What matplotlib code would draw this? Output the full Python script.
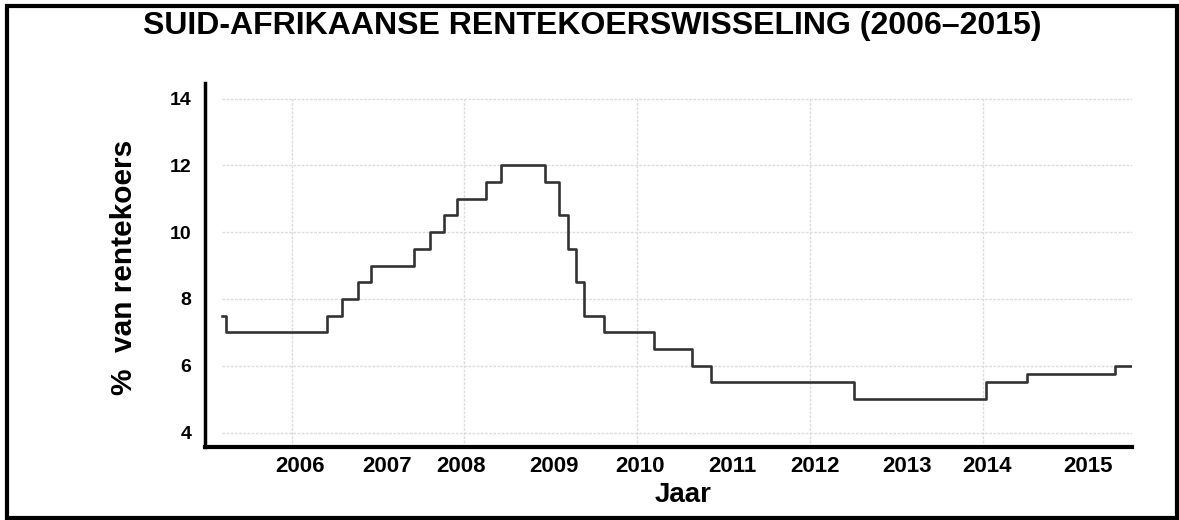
import matplotlib.pyplot as plt
from matplotlib.patches import Rectangle

# repo rate changes: (decimal year of change, new rate in %)
change_years = [2005.20, 2005.24, 2006.41, 2006.58, 2006.77, 2006.92, 2007.42, 2007.60,
                2007.76, 2007.91, 2008.25, 2008.42, 2008.93, 2009.09, 2009.20, 2009.29,
                2009.38, 2009.61, 2010.19, 2010.63, 2010.85, 2012.51, 2014.03, 2014.51,
                2015.53, 2015.72]
rates = [7.5, 7.0, 7.5, 8.0, 8.5, 9.0, 9.5, 10.0,
         10.5, 11.0, 11.5, 12.0, 11.5, 10.5, 9.5, 8.5,
         7.5, 7.0, 6.5, 6.0, 5.5, 5.0, 5.5, 5.75,
         6.0, 6.0]

year_label_pos = [2006.10, 2007.10, 2007.96, 2009.03, 2010.03, 2011.10,
                  2012.06, 2013.12, 2014.04, 2015.21]
year_labels = ['2006', '2007', '2008', '2009', '2010', '2011',
               '2012', '2013', '2014', '2015']
grid_years = [2006, 2008, 2010, 2012, 2014]
y_ticks = [4, 6, 8, 10, 12, 14]

plt.rcParams['font.family'] = ['Liberation Sans', 'DejaVu Sans']

fig = plt.figure(figsize=(11.79, 5.2), dpi=100)
ax = fig.add_axes([0.174, 0.140, 0.786, 0.700])

# light dotted grid, only over the data span
ax.hlines(y_ticks, change_years[0], change_years[-1], colors='#dddddd',
          linewidth=1, linestyles=(0, (2, 1)), zorder=1)
ax.vlines(grid_years, 3.56, 14, colors='#dddddd', linewidth=1,
          linestyles=(0, (2, 1)), zorder=1)

ax.plot(change_years, rates, drawstyle='steps-post', color='#333333',
        linewidth=1.9, zorder=3)

ax.set_xlim(2005.0, 2015.72)
ax.set_ylim(3.56, 14.46)
ax.set_xticks(year_label_pos)
ax.set_xticklabels(year_labels, fontsize=16, fontweight='bold')
ax.set_yticks(y_ticks)
ax.set_yticklabels([str(v) for v in y_ticks], fontsize=14, fontweight='bold')
ax.tick_params(axis='x', length=0, pad=6)
ax.tick_params(axis='y', length=0, pad=10)

for side in ['top', 'right']:
    ax.spines[side].set_visible(False)
ax.spines['left'].set_linewidth(2.5)
ax.spines['bottom'].set_linewidth(3)

fig.text(0.502, 0.950, 'SUID-AFRIKAANSE RENTEKOERSWISSELING (2006\u20132015)',
         ha='center', va='center', fontsize=23, fontweight='bold')
fig.text(0.105, 0.485, '%  van rentekoers', rotation=90, ha='center', va='center',
         fontsize=21.5, fontweight='bold')
fig.text(0.579, 0.048, 'Jaar', ha='center', va='center', fontsize=20, fontweight='bold')

# outer frame round the whole picture
fig.patches.append(Rectangle((0.006, 0.004), 0.992, 0.984, transform=fig.transFigure,
                             fill=False, edgecolor='black', linewidth=3))

fig.savefig('out.png', dpi=100, facecolor='white')
